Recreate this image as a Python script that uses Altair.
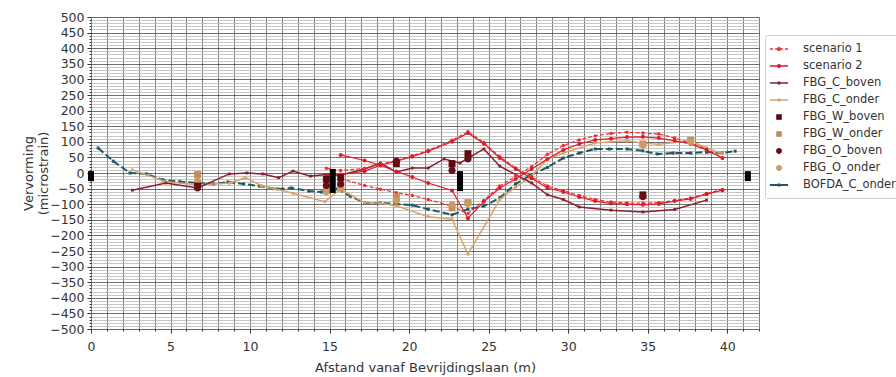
import altair as alt
import pandas as pd

# ---------------- data ----------------
SERIES = ["scenario 1", "scenario 2", "FBG_C_boven", "FBG_C_onder", "FBG_W_boven",
          "FBG_W_onder", "FBG_O_boven", "FBG_O_onder", "BOFDA_C_onder"]
COLORS = ["#ee3030", "#e01a2c", "#8a1f2f", "#d9a46c", "#5c0b10",
          "#c28d5b", "#6a0d17", "#cc9b62", "#1f5a62"]
COLOR_OF = dict(zip(SERIES, COLORS))

X_TICKS = list(range(0, 43))
Y_TICKS = list(range(-500, 501, 10))

S_UP_X = [14.8, 15.7, 17.2, 18.2, 19.2, 20.2, 21.2, 22.7, 23.7, 24.7, 25.7, 26.7, 27.7,
          28.7, 29.7, 30.7, 31.7, 32.7, 33.7, 34.7, 35.7, 36.7, 37.7, 38.7, 39.7]
S_DOWN_X = [15.7, 17.2, 18.2, 19.2, 20.2, 21.2, 22.7, 23.7, 24.7, 25.7, 26.7, 27.7,
            28.7, 29.7, 30.7, 31.7, 32.7, 33.7, 34.7, 35.7, 36.7, 37.7, 38.7, 39.7]
S1_UP = [15, 8, 15, 28, 40, 55, 72, 105, 132, 98, 52, 16, -12, -42, -57, -72, -85, -93,
         -96, -97, -95, -88, -80, -66, -53]
S1_DOWN = [-18, -40, -52, -63, -72, -85, -106, -130, -88, -42, -10, 20, 60, 88, 106, 119,
           127, 131, 128, 125, 112, 96, 77, 48]
S2_UP = [-10, -5, 6, 25, 38, 52, 70, 100, 128, 94, 48, 13, -17, -48, -61, -77, -90, -98,
         -100, -102, -99, -90, -83, -68, -55]
S2_DOWN = [58, 40, 25, 5, -13, -32, -56, -145, -92, -48, -19, 13, 45, 74, 93, 106, 110,
           115, 116, 112, 103, 93, 74, 48]

CB_X = [2.6, 4.7, 6.7, 8.7, 9.8, 10.8, 11.8, 12.7, 13.8, 14.8, 15.7, 17.2, 18.2, 19.2,
        20.2, 21.2, 22.2, 23.2, 24.7, 25.7, 27.7, 28.7, 29.7, 30.7, 32.7, 34.7, 36.7, 38.7]
CB_V = [-55, -32, -48, -3, 0, -3, -15, 6, -10, -5, -6, 13, 32, 3, 16, 16, 45, 32, 77, 22,
        -32, -70, -85, -109, -119, -125, -117, -87]

CO_X = [2.6, 4.7, 6.7, 8.7, 9.7, 10.7, 12.7, 14.7, 15.7, 17.2, 18.2, 19.2, 21.2, 22.7,
        23.7, 25.7, 26.7, 27.7, 28.7, 29.7, 31.7, 33.7, 34.7, 35.7, 37.7, 38.7, 39.7]
CO_V = [10, -28, -38, -33, -15, -40, -65, -92, -52, -95, -97, -105, -140, -148, -260,
        -85, -45, -10, 45, 64, 96, 103, 95, 92, 103, 80, 62]

BO_X = [0.45, 1.4, 2.45, 3.5, 4.5, 5.6, 6.7, 7.7, 8.6, 9.6, 10.6, 11.7, 12.6, 13.7, 14.5,
        15.5, 16.3, 17.2, 18.2, 19.2, 20.2, 21.2, 22.7, 23.7, 24.7, 25.7, 26.7, 27.6, 28.7,
        29.7, 30.7, 31.7, 32.6, 33.7, 34.7, 35.6, 36.6, 37.7, 38.7, 39.7, 40.5]
BO_V = [80, 38, 0, -3, -22, -28, -32, -35, -29, -35, -42, -51, -48, -58, -61, -51, -74,
        -96, -96, -99, -103, -116, -134, -116, -106, -80, -35, -8, 18, 48, 64, 77, 77, 77,
        71, 61, 64, 64, 67, 64, 70]

WB_X = [6.7, 14.8, 15.7, 19.2, 22.7, 23.7, 34.7]
WB_V = [-42, -20, -15, 30, 30, 62, -70]
WO_X = [6.7, 14.8, 15.7, 19.2, 22.7, 23.7, 34.7, 37.7]
WO_V = [-5, -55, -45, -78, -112, -95, 93, 105]
OB_X = [6.7, 14.8, 15.7, 19.2, 22.7, 23.7, 34.7]
OB_V = [-48, -40, -35, 38, 8, 45, -76]
OO_X = [6.7, 14.8, 15.7, 19.2, 22.7, 23.7, 34.7, 37.7]
OO_V = [-25, -60, -50, -88, -102, -98, 90, 100]

SUP_X = [0, 15.2, 23.2, 41.3]
SUP_LO = [-26, -64, -58, -26]
SUP_HI = [6, 13, 6, 6]

# legend glyphs (custom symbol paths)
DOT = "M0.3,0A0.3,0.3,0,1,1,-0.3,0A0.3,0.3,0,1,1,0.3,0Z"
SQ_S = "M-0.2,-0.2H0.2V0.2H-0.2Z"
LEGEND_SHAPES = [
    "M-1.3,-0.1H-0.85V0.1H-1.3Z M-0.55,-0.1H0.55V0.1H-0.55Z M0.85,-0.1H1.3V0.1H0.85Z " + DOT,
    "M-1.3,-0.1H1.3V0.1H-1.3Z " + DOT,
    "M-1.3,-0.12H1.3V0.12H-1.3Z " + SQ_S,
    "M-1.3,-0.12H1.3V0.12H-1.3Z " + SQ_S,
    "M-0.4,-0.4H0.4V0.4H-0.4Z",
    "M-0.4,-0.4H0.4V0.4H-0.4Z",
    "M0.42,0A0.42,0.42,0,1,1,-0.42,0A0.42,0.42,0,1,1,0.42,0Z",
    "M0.42,0A0.42,0.42,0,1,1,-0.42,0A0.42,0.42,0,1,1,0.42,0Z",
    "M-1.3,-0.13H1.3V0.13H-1.3Z " + SQ_S,
]


def frame(name, branch, xs, vs):
    return pd.DataFrame({"series": name, "branch": branch, "x": xs, "v": vs})


s1 = pd.concat([frame("scenario 1", "a", S_UP_X, S1_UP), frame("scenario 1", "b", S_DOWN_X, S1_DOWN)])
s2 = pd.concat([frame("scenario 2", "a", S_UP_X, S2_UP), frame("scenario 2", "b", S_DOWN_X, S2_DOWN)])
cb = frame("FBG_C_boven", "a", CB_X, CB_V)
co = frame("FBG_C_onder", "a", CO_X, CO_V)
bo = frame("BOFDA_C_onder", "a", BO_X, BO_V)
pts = pd.concat([frame("FBG_W_onder", "a", WO_X, WO_V), frame("FBG_O_onder", "a", OO_X, OO_V),
                 frame("FBG_W_boven", "a", WB_X, WB_V), frame("FBG_O_boven", "a", OB_X, OB_V)])
sup = pd.DataFrame({"x": SUP_X, "lo": SUP_LO, "hi": SUP_HI})

# ---------------- encodings ----------------
FONT = "DejaVu Sans"
color_scale = alt.Scale(domain=SERIES, range=COLORS)
shape_scale = alt.Scale(domain=SERIES, range=LEGEND_SHAPES)

x_axis = alt.Axis(
    values=X_TICKS, labelExpr="datum.value % 5 === 0 ? datum.label : ''",
    grid=True, gridColor="#606060", gridWidth=0.8,
    tickSize={"condition": {"test": "datum.value % 5 === 0", "value": 4}, "value": 2},
    tickColor="#333", domain=False, labelFlush=False, labelOverlap=False,
    labelFont=FONT, labelFontSize=12.5, labelColor="#333", labelPadding=7,
    title="Afstand vanaf Bevrijdingslaan (m)", titleFont=FONT, titleFontSize=13,
    titleFontWeight="normal", titleColor="#333", titleX=334, titleY=38,
    titleBaseline="middle", titleAlign="center")
y_axis = alt.Axis(
    values=Y_TICKS, labelExpr="datum.value % 50 === 0 ? datum.label : ''",
    grid=True,
    gridColor={"condition": {"test": "datum.value % 50 === 0", "value": "#4a4a4a"}, "value": "#b8b8b8"},
    gridWidth=0.8,
    tickSize={"condition": {"test": "datum.value % 50 === 0", "value": 4}, "value": 2},
    tickColor="#333", domain=False, labelFlush=False, labelOverlap=False,
    labelFont=FONT, labelFontSize=12.5, labelColor="#333", labelPadding=3,
    title=["Vervorming", "(microstrain)"], titleFont=FONT, titleFontSize=13,
    titleFontWeight="normal", titleColor="#333", titleAngle=-90, titleX=-63, titleY=156,
    titleBaseline="middle", titleAlign="center", titleLineHeight=15)

X = alt.X("x:Q", scale=alt.Scale(domain=[0, 42], nice=False, zero=False), axis=x_axis)
Y = alt.Y("v:Q", scale=alt.Scale(domain=[-500, 500], nice=False), axis=y_axis)


def line_layer(df, name, width, dash=None, msize=10, mshape="circle"):
    col = COLOR_OF[name]
    kw = dict(strokeWidth=width, color=col)
    if dash:
        kw["strokeDash"] = dash
    ln = alt.Chart(df).mark_line(**kw).encode(x=X, y=Y, detail="branch:N", order="x:Q")
    pt = alt.Chart(df).mark_point(filled=True, opacity=1, shape=mshape, size=msize,
                                  color=col).encode(x=X, y=Y)
    return [ln, pt]


leg = dict(title=None, orient="none", legendX=674, legendY=18, symbolSize=196,
           symbolStrokeWidth=0, padding=7, rowPadding=4, labelOffset=17,
           labelFont=FONT, labelFontSize=11.5, labelColor="#333", strokeColor="#cfcfcf",
           fillColor="white", cornerRadius=2, symbolOpacity=1)

points = alt.Chart(pts).mark_point(filled=True, opacity=1).encode(
    x=X, y=Y,
    color=alt.Color("series:N", scale=color_scale, legend=alt.Legend(**leg)),
    shape=alt.Shape("series:N", scale=shape_scale, legend=alt.Legend(**leg)),
    size=alt.value(300))

supports = alt.Chart(sup).mark_rule(color="black", strokeWidth=6, strokeCap="butt").encode(
    x=X, y=alt.Y("lo:Q", scale=alt.Scale(domain=[-500, 500], nice=False), axis=y_axis), y2="hi:Q")

layers = []
layers += line_layer(bo, "BOFDA_C_onder", 2, dash=[7, 3], msize=9, mshape="square")
layers += line_layer(co, "FBG_C_onder", 1.5, msize=8, mshape="square")
layers += line_layer(cb, "FBG_C_boven", 1.5, msize=8, mshape="square")
layers += line_layer(s1, "scenario 1", 1.2, dash=[4, 2], msize=12)
layers += line_layer(s2, "scenario 2", 1.2, msize=16)
layers += [points, supports]

chart = alt.layer(*layers).properties(
    width=668, height=312,
    autosize=alt.AutoSizeParams(type="none"),
    padding={"left": 91, "top": 17, "right": 137, "bottom": 48},
).configure_view(stroke="#111", strokeWidth=1).configure(background="white")

chart.save("out.html", embed_options={"renderer": "svg", "actions": False})
